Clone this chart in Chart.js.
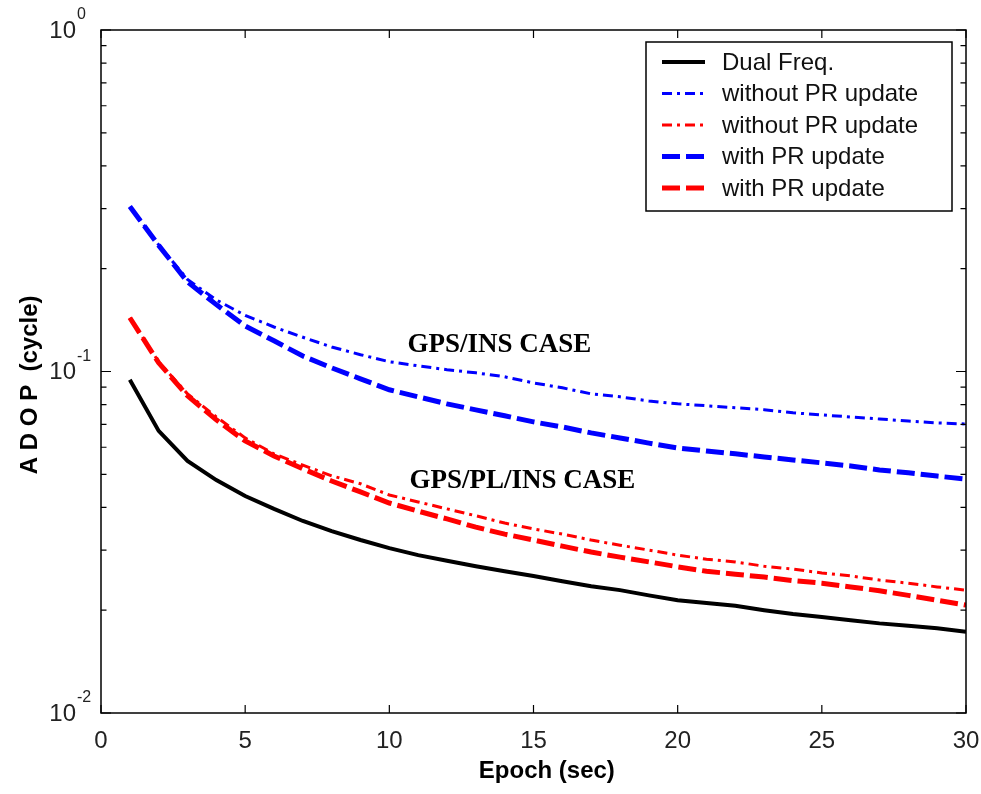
<!DOCTYPE html>
<html>
<head>
<meta charset="utf-8">
<script src="https://cdn.jsdelivr.net/npm/chart.js@4.4.1/dist/chart.umd.min.js"></script>
<style>
html,body{margin:0;padding:0;background:#fff}
</style>
</head>
<body>
<canvas id="grafico" width="981" height="794"></canvas>
<script>

// epochs (sec)
let epocas = [1,2,3,4,5,6,7,8,9,10,11,12,13,14,15,16,17,18,19,20,21,22,23,24,25,26,27,28,29,30]

// ADOP (cycle)
let dualFreq = [0.0946,0.0670,0.0547,0.0481,0.0432,0.0396,0.0365,0.0341,0.0321,0.0304,0.0290,0.0279,0.0269,0.0260,0.0252,0.0243,0.0235,0.0229,0.0221,0.0214,0.0210,0.0206,0.0200,0.0195,0.0191,0.0187,0.0183,0.0180,0.0177,0.0173]
let azulSemPR = [0.304,0.235,0.186,0.162,0.146,0.135,0.126,0.118,0.112,0.1068,0.1039,0.1012,0.0991,0.0965,0.0926,0.0896,0.0860,0.0843,0.0820,0.0804,0.0794,0.0783,0.0773,0.0757,0.0746,0.0736,0.0726,0.0716,0.0707,0.0702]
let vermSemPR = [0.1437,0.1068,0.0860,0.0736,0.0639,0.0574,0.0532,0.0495,0.0469,0.0435,0.0415,0.0396,0.0378,0.0360,0.0346,0.0334,0.0321,0.0310,0.0300,0.0290,0.0282,0.0277,0.0269,0.0264,0.0257,0.0252,0.0245,0.0240,0.0234,0.0229]
let azulComPR = [0.304,0.234,0.183,0.157,0.136,0.123,0.111,0.1025,0.0952,0.0884,0.0843,0.0804,0.0772,0.0742,0.0712,0.0688,0.0661,0.0639,0.0617,0.0597,0.0585,0.0574,0.0562,0.0551,0.0540,0.0529,0.0515,0.0505,0.0494,0.0484]
let vermComPR = [0.1437,0.106,0.0849,0.0722,0.0626,0.0566,0.0519,0.0478,0.0444,0.0412,0.0390,0.0370,0.0350,0.0334,0.0321,0.0308,0.0296,0.0286,0.0277,0.0268,0.0260,0.0255,0.0250,0.0244,0.0240,0.0234,0.0228,0.0221,0.0214,0.0207]

let nomes = ["Dual Freq.","without PR update","without PR update","with PR update","with PR update"]

// y tick labels (10^exp)
let marcasY = [1, 0.1, 0.01]
let expoentes = ["0","-1","-2"]

// text labels inside the plot: [text, epoch, value]
let notas = [["GPS/INS CASE", 10.63, 0.1198], ["GPS/PL/INS CASE", 10.7, 0.0478]]

function pontos(v){
return epocas.map((e,i)=>({x:e,y:v[i]}))
}

let moldura = {
id:"moldura",
afterDraw(chart){
let c = chart.ctx
let a = chart.chartArea
let sx = chart.scales.x
let sy = chart.scales.y
c.save()
c.strokeStyle = "#000"
c.lineWidth = 1.5
c.strokeRect(a.left, a.top, a.right-a.left, a.bottom-a.top)

// log ticks on left and right, pointing in
c.lineWidth = 1.2
c.beginPath()
for(let k=-2;k<=0;k++){
for(let m=1;m<=9;m++){
let v = m*Math.pow(10,k)
if(v>1.0001) continue
let p = sy.getPixelForValue(v)
let l = m==1 ? 10 : 5.5
c.moveTo(a.left,p); c.lineTo(a.left+l,p)
c.moveTo(a.right,p); c.lineTo(a.right-l,p)
}
}
// x ticks bottom and top
sx.ticks.forEach(t=>{
let p = sx.getPixelForValue(t.value)
c.moveTo(p,a.bottom); c.lineTo(p,a.bottom-8)
c.moveTo(p,a.top); c.lineTo(p,a.top+8)
})
c.stroke()

// y labels with exponent
c.fillStyle = "#222"
marcasY.forEach((v,i)=>{
let p = sy.getPixelForValue(v)
c.font = "24px Arial"
c.textAlign = "right"
c.textBaseline = "middle"
c.fillText("10", a.left-25, p+1)
c.font = "16px Arial"
c.textAlign = "left"
c.fillText(expoentes[i], a.left-24, p-15)
})

// annotations
c.fillStyle = "#000"
c.font = "bold 27px 'Liberation Serif'"
c.textAlign = "left"
c.textBaseline = "middle"
notas.forEach(n=>{
c.fillText(n[0], sx.getPixelForValue(n[1]), sy.getPixelForValue(n[2]))
})

// legend box
let bw = 306, bh = 169
let bx = a.right-14-bw, by = a.top+12
c.fillStyle = "#fff"
c.fillRect(bx,by,bw,bh)
c.lineWidth = 1.5
c.strokeStyle = "#000"
c.strokeRect(bx,by,bw,bh)
chart.data.datasets.forEach((d,i)=>{
let yy = by+20+i*31.5
c.save()
c.strokeStyle = d.borderColor
c.lineWidth = d.borderWidth
c.setLineDash(d.borderDash||[])
c.beginPath()
c.moveTo(bx+16,yy); c.lineTo(bx+59,yy)
c.stroke()
c.restore()
c.fillStyle = "#111"
c.font = "24px Arial"
c.textAlign = "left"
c.textBaseline = "middle"
c.fillText(d.label, bx+76, yy+1)
})
c.restore()
}
}

let ctx = document.getElementById("grafico").getContext("2d")

let grafico = new Chart(ctx, {
type:"line",
data:{
datasets:[
{label:nomes[0], data:pontos(dualFreq), borderColor:"#000000", borderWidth:4},
{label:nomes[1], data:pontos(azulSemPR), borderColor:"#0000ff", borderWidth:3, borderDash:[10,5,3,5]},
{label:nomes[2], data:pontos(vermSemPR), borderColor:"#ff0000", borderWidth:3, borderDash:[10,5,3,5]},
{label:nomes[3], data:pontos(azulComPR), borderColor:"#0000ff", borderWidth:5, borderDash:[18,6]},
{label:nomes[4], data:pontos(vermComPR), borderColor:"#ff0000", borderWidth:5, borderDash:[18,6]}
]
},
options:{
responsive:false,
animation:false,
devicePixelRatio:1,
elements:{point:{radius:0}, line:{tension:0}},
layout:{padding:{left:0, top:30, right:15, bottom:0}},
plugins:{legend:{display:false}, tooltip:{enabled:false}},
scales:{
x:{
type:"linear", min:0, max:30,
grid:{display:false, drawTicks:false},
border:{display:false},
ticks:{stepSize:5, color:"#222", font:{family:"Arial", size:24}, padding:14, maxRotation:0},
// leading spaces push the title a little right, as in the original
title:{display:true, text:"    Epoch (sec)", color:"#000", font:{family:"Arial", size:24, weight:"bold"}, padding:{top:0,bottom:8}},
afterFit(s){ s.height = 81; s.paddingRight = 0; s.paddingLeft = 0 }
},
y:{
type:"logarithmic", min:0.01, max:1,
grid:{display:false, drawTicks:false},
border:{display:false},
ticks:{display:false},
title:{display:true, text:"A D O P  (cycle)    ", color:"#000", font:{family:"Arial", size:24, weight:"bold"}, padding:{top:16,bottom:0}},
afterFit(s){ s.width = 101; s.paddingTop = 0; s.paddingBottom = 0 }
}
}
},
plugins:[moldura]
})

</script>
</body>
</html>
